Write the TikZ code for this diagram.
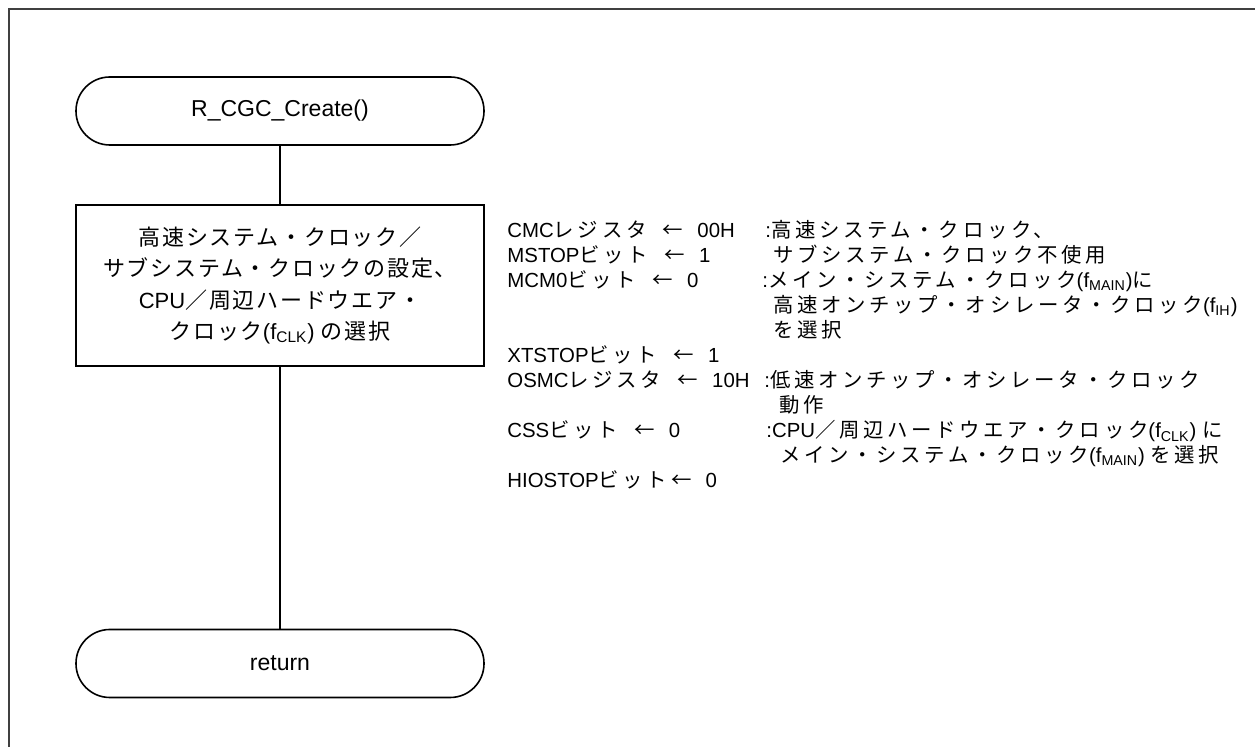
\documentclass[tikz,border=0pt]{standalone}
\usepackage{fontspec}
\setmainfont{Liberation Sans}
\newfontfamily\jpfont{Noto Sans CJK JP}[LetterSpace=8]
\newfontfamily\jpwide{Noto Sans CJK JP}[LetterSpace=18]
\newcommand{\jp}[1]{{\jpfont #1}}
\newcommand{\fsub}[1]{f\textsubscript{#1}}
\newcommand{\larr}{\hspace{0.8em}\jp{←}\hspace{0.7em}}

\begin{document}
\begin{tikzpicture}[
		x=0.5pt, y=-0.5pt,
		font=\fontsize{10.2}{12}\selectfont
	]
	\tikzset{
		termnode/.style = {draw=black, line width=0.8pt, rounded corners=16.9pt, minimum width=204pt, minimum height=34pt, inner sep=0pt, font=\fontsize{11.5}{13}\selectfont},
		procnode/.style = {draw=black, line width=0.8pt, minimum width=204pt, minimum height=80.5pt, align=center, inner sep=0pt, font=\fontsize{11}{15.6}\selectfont},
		regnode/.style = {anchor=base west, inner sep=0pt, font=\fontsize{10.2}{12}\selectfont\let\jpfont\jpwide},
		flowline/.style = {-, line width=0.6pt},
		frameline/.style = {line width=0.8pt, draw=black!75},
	}
	\useasboundingbox (0,0) rectangle (1255,747);
	\draw[frameline] (9,747) -- (9,9) -- (1255,9);
		%
		\node[termnode] at (280,111) (start) {R\_CGC\_Create()};
		\node[procnode] at (280,285.5) (clk) {\jp{高速システム・クロック／}\\\jp{サブシステム・クロックの設定、}\\CPU\jp{／周辺ハードウエア・}\\\jp{クロック}(\fsub{CLK}) \jp{の選択}};
		\node[termnode] at (280,663.5) (ret) {return};
		%
		\draw[flowline] (start) -- (clk);
		\draw[flowline] (clk) -- (ret);
		%
		\node[regnode] at (507,238) (cmc) {CMC\jp{レジスタ}\larr 00H};
		\node[regnode] at (765,238) (cmcd) {:\jp{高速システム・クロック、}};
		\node[regnode] at (507,263) (mstop) {MSTOP\jp{ビット}\larr 1};
		\node[regnode] at (773,263) (mstopd) {\jp{サブシステム・クロック不使用}};
		\node[regnode] at (507,288) (mcm) {MCM0\jp{ビット}\larr 0};
		\node[regnode] at (762,288) (mcmd) {:\jp{メイン・システム・クロック}(\fsub{MAIN})\jp{に}};
		\node[regnode] at (773,313) (mcmdb) {\jp{高速オンチップ・オシレータ・クロック}(\fsub{IH})};
		\node[regnode] at (773,338) (mcmdc) {\jp{を選択}};
		\node[regnode] at (507,363) (xtstop) {XTSTOP\jp{ビット}\larr 1};
		\node[regnode] at (507,388) (osmc) {OSMC\jp{レジスタ}\larr 10H};
		\node[regnode] at (764,388) (osmcd) {:\jp{低速オンチップ・オシレータ・クロック}};
		\node[regnode] at (779,413) (osmcdb) {\jp{動作}};
		\node[regnode] at (507,438) (css) {CSS\jp{ビット}\larr 0};
		\node[regnode] at (766,438) (cssd) {:CPU\jp{／周辺ハードウエア・クロック}(\fsub{CLK}) \jp{に}};
		\node[regnode] at (780,463) (cssdb) {\jp{メイン・システム・クロック}(\fsub{MAIN}) \jp{を選択}};
		\node[regnode] at (507,488) (hiostop) {HIOSTOP\jp{ビット←}\hspace{0.7em}0};
\end{tikzpicture}
\end{document}
